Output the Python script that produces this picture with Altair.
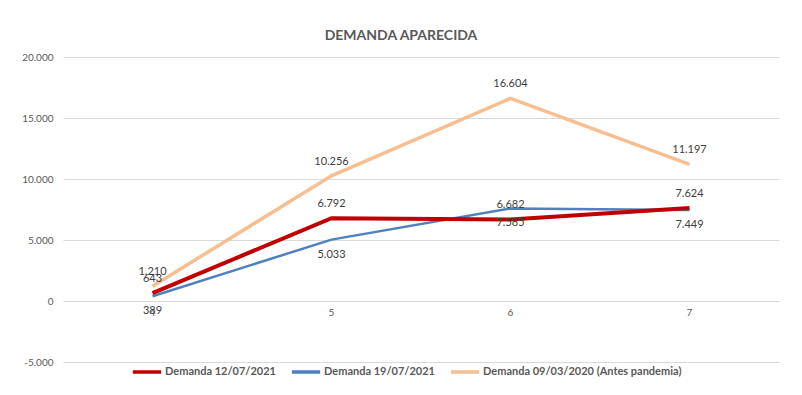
import altair as alt
import pandas as pd

categories = [4, 5, 6, 7]
series_names = ["Demanda 12/07/2021", "Demanda 19/07/2021", "Demanda 09/03/2020 (Antes pandemia)"]
red_vals = [643, 6792, 6682, 7624]
blue_vals = [389, 5033, 7585, 7449]
orange_vals = [1210, 10256, 16604, 11197]
colors = ["#C00000", "#4F81BD", "#F7BF91"]
widths = [4, 2.5, 3.5]
label_dy = [-14, 15, -14]

rows = []
for name, vals in zip(series_names, [red_vals, blue_vals, orange_vals]):
    for c, v in zip(categories, vals):
        rows.append({"cat": c, "val": v, "serie": name,
                     "lbl": f"{v:,}".replace(",", ".")})
df = pd.DataFrame(rows)
cat_df = pd.DataFrame({"cat": categories, "zero": [0] * len(categories),
                       "lbl": [str(c) for c in categories]})

FONT = "Lato"
GRAY = "#595959"

xs = alt.X("cat:Q", scale=alt.Scale(domain=[3.5, 7.5], nice=False, zero=False), axis=None)
ys = alt.Y("val:Q", scale=alt.Scale(domain=[-5000, 20000], nice=False),
           axis=alt.Axis(values=[-5000, 0, 5000, 10000, 15000, 20000], title=None,
                         domain=False, ticks=False, labelPadding=10,
                         labelColor=GRAY, labelFont=FONT, labelFontSize=10,
                         gridColor="#D9D9D9", gridWidth=1,
                         labelExpr="(datum.value < 0 ? '-' : '') + replace(format(abs(datum.value), ','), ',', '.')"))

color_enc = alt.Color("serie:N", scale=alt.Scale(domain=series_names, range=colors),
                      legend=alt.Legend(title=None, orient="none", legendX=68, legendY=299,
                                        direction="horizontal", symbolType="stroke",
                                        symbolSize=800, symbolStrokeWidth=3.5,
                                        labelFont=FONT, labelFontSize=11, labelLimit=400,
                                        labelColor=GRAY, labelFontWeight="bold",
                                        columnPadding=8, labelOffset=2))

layers = []
# draw orange first (behind), then blue, then red
for idx in [2, 1, 0]:
    name = series_names[idx]
    layers.append(
        alt.Chart(df).transform_filter(alt.datum.serie == name)
        .mark_line(strokeWidth=widths[idx])
        .encode(x=xs, y=ys, color=color_enc, order=alt.Order("cat:Q"))
    )
for idx in [0, 1, 2]:
    name = series_names[idx]
    layers.append(
        alt.Chart(df).transform_filter(alt.datum.serie == name)
        .mark_text(font=FONT, fontSize=11, color="#404040", dy=label_dy[idx])
        .encode(x=xs, y=alt.Y("val:Q"), text="lbl:N")
    )

cat_labels = alt.Chart(cat_df).mark_text(font=FONT, fontSize=10, color=GRAY, dy=12).encode(
    x=alt.X("cat:Q"), y=alt.Y("zero:Q"), text="lbl:N"
)
layers.append(cat_labels)

chart = alt.layer(*layers).properties(
    width=716, height=305,
    padding={"left": 55, "top": 49, "right": 15, "bottom": 25},
    autosize=alt.AutoSizeParams(type="none"),
    title=alt.TitleParams("DEMANDA APARECIDA", font=FONT, fontSize=14, fontWeight="bold",
                          color=GRAY, anchor="middle", dx=-20, offset=9),
).configure_view(stroke=None)

chart.save("out.html", embed_options={"renderer": "svg", "actions": False})
